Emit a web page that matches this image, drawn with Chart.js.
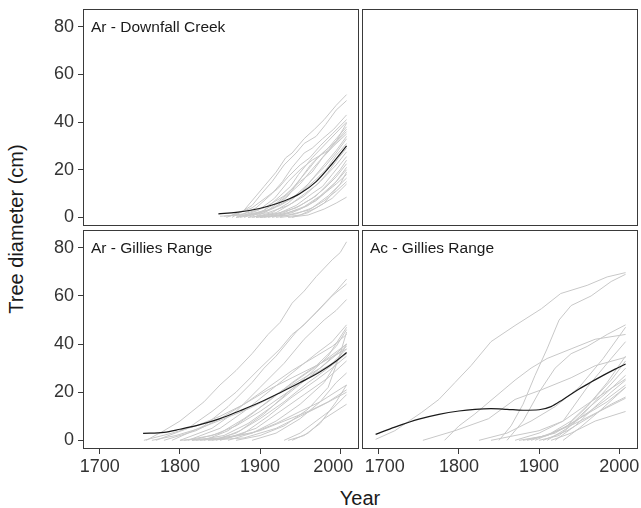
<!DOCTYPE html>
<html>
<head>
<meta charset="utf-8">
<script src="https://cdn.jsdelivr.net/npm/chart.js@4"></script>
<style>
  body { margin: 0; background: #fff; width: 641px; height: 508px; position: relative; overflow: hidden;
         font-family: 'Liberation Sans', Arial, Helvetica, sans-serif; color: #1a1a1a; }
  .panel { position: absolute; }
  .ytitle { position: absolute; left: 15.5px; top: 229px; transform: translate(-50%, -50%) rotate(-90deg);
            font-size: 20px; line-height: 1; white-space: nowrap; }
  .xtitle { position: absolute; left: 360px; top: 498px; transform: translate(-50%, -50%);
            font-size: 20px; line-height: 1; white-space: nowrap; }
</style>
</head>
<body>
<div class="panel" style="left:40px;top:0px;width:322px;height:230px"><canvas id="tl"></canvas></div>
<div class="panel" style="left:358px;top:0px;width:283px;height:230px"><canvas id="tr"></canvas></div>
<div class="panel" style="left:40px;top:228px;width:322px;height:251px"><canvas id="bl"></canvas></div>
<div class="panel" style="left:358px;top:228px;width:283px;height:251px"><canvas id="br"></canvas></div>
<div class="ytitle">Tree diameter (cm)</div>
<div class="xtitle">Year</div>

<script>
const yearTicks = [1700, 1800, 1900, 2000];
const cmTicks = [0, 20, 40, 60, 80];
const panelNames = ['Ar - Downfall Creek', 'Ar - Gillies Range', 'Ac - Gillies Range'];

// [year, diameter cm]
const downfallTrend = [[1848,1.5],[1870,2.1],[1890,3.1],[1910,4.7],[1930,6.9],[1950,10],[1970,15],[1990,22.5],[2008,30]];
const gilliesArTrend = [[1754,2.9],[1780,3.3],[1800,4.6],[1825,6.5],[1850,9],[1875,12.3],[1900,15.8],[1925,19.8],[1950,24],[1975,28.5],[1995,33],[2008,36.5]];
const gilliesAcTrend = [[1696,2.5],[1720,5.5],[1750,8.8],[1775,10.8],[1800,12.2],[1820,12.9],[1840,13.2],[1860,12.9],[1880,12.5],[1900,12.7],[1915,14],[1930,17],[1950,21.3],[1965,24.2],[1980,27],[1995,29.6],[2008,31.7]];

const downfallLines = [
  [[1858,0],[1880,3],[1895,9],[1905,13],[1920,19],[1932,25],[1940,27],[1955,33],[1968,37],[1980,41],[1995,47],[2008,51.5]],
  [[1865,0],[1890,5],[1902,10],[1915,15],[1930,22],[1945,27],[1955,31],[1970,34],[1982,39],[1995,45],[2008,49]],
  [[1870,0],[1895,4],[1915,10],[1928,15],[1940,21],[1955,27],[1965,29],[1978,33],[1992,37],[2008,43]],
  [[1862,0.5],[1890,4],[1910,9],[1922,12],[1935,17],[1950,22],[1962,25],[1975,30],[1990,35],[2008,41]],
  [[1880,0],[1905,3],[1925,9],[1938,13],[1948,18],[1965,25],[1985,32],[2008,40]],
  [[1875,0],[1900,2],[1920,6],[1935,10],[1945,14],[1960,20],[1972,25],[1985,29],[1995,33],[2008,38]],
  [[1885,0],[1910,3],[1930,8],[1950,14],[1962,19],[1975,24],[1990,30],[2008,37]],
  [[1855,0.5],[1880,1.5],[1905,4],[1930,9],[1950,15],[1965,19],[1978,25],[1992,30],[2008,35]],
  [[1890,0],[1915,2],[1935,6],[1955,12],[1968,17],[1980,21],[1995,27],[2008,33]],
  [[1870,0],[1900,2],[1925,5],[1950,10],[1970,16],[1982,20],[1995,26],[2008,31]],
  [[1895,0],[1920,2],[1940,6],[1960,11],[1972,14],[1985,19],[1998,25],[2008,29]],
  [[1880,0.5],[1910,2],[1935,5],[1955,9],[1975,15],[1995,22],[2008,27.5]],
  [[1900,0],[1925,2],[1945,5],[1965,10],[1978,13],[1990,18],[2008,25.5]],
  [[1905,0],[1930,2],[1950,5],[1970,9],[1990,16],[2000,20],[2008,24]],
  [[1885,0],[1920,1.5],[1945,4],[1965,8],[1980,12],[1995,17],[2008,22.5]],
  [[1910,0],[1935,2],[1955,4.5],[1975,9],[1995,15],[2008,21]],
  [[1895,0],[1925,1],[1950,3.5],[1970,7],[1990,13],[2008,20]],
  [[1915,0],[1940,2],[1960,5],[1980,10],[1995,14],[2008,18]],
  [[1920,0],[1945,1.5],[1965,4],[1985,9],[2008,16.5]],
  [[1900,0],[1935,1],[1960,3],[1980,7],[1995,11],[2008,15]],
  [[1925,0],[1950,1],[1970,4],[1990,8],[2008,14]],
  [[1935,0],[1960,1],[1980,3.5],[1995,6],[2008,8.5]],
  [[1940,0],[1960,2],[1980,6],[2000,14],[2008,19]],
  [[1850,0.5],[1880,1],[1910,3],[1940,8],[1960,14],[1980,22],[1995,28],[2008,34]],
  [[1872,0],[1898,3],[1918,8],[1935,15],[1950,20],[1965,24],[1985,28],[2008,36]],
  [[1892,0],[1918,4],[1935,9],[1950,16],[1963,22],[1978,27],[1995,32],[2008,39.5]]
];

const gilliesArLines = [
  [[1758,0],[1780,4],[1800,8],[1815,12],[1830,16],[1850,23],[1870,29],[1890,36],[1910,44],[1925,49],[1940,57],[1955,62],[1970,68],[1990,75],[2000,78],[2008,82.5]],
  [[1770,0],[1810,5],[1840,12],[1870,20],[1900,30],[1925,38],[1940,44],[1955,48],[1975,55],[1995,62],[2008,67]],
  [[1790,0],[1830,6],[1860,14],[1890,24],[1905,30],[1920,35],[1945,45],[1970,53],[1990,60],[2008,65]],
  [[1800,0],[1840,5],[1870,12],[1900,22],[1930,32],[1955,42],[1980,50],[1995,54],[2008,58.5]],
  [[1810,0],[1850,5],[1880,12],[1910,20],[1940,28],[1970,36],[1990,41],[2008,48]],
  [[1815,0],[1850,3],[1880,9],[1910,16],[1940,24],[1970,31],[1995,39],[2008,46]],
  [[1780,0],[1820,4],[1850,9],[1880,15],[1910,22],[1940,29],[1970,35],[1990,39],[2008,44]],
  [[1830,0],[1860,4],[1890,11],[1920,19],[1950,26],[1980,33],[2008,40]],
  [[1820,0],[1855,2],[1885,7],[1915,14],[1945,22],[1975,30],[2008,39]],
  [[1805,0],[1840,2],[1870,6],[1900,12],[1930,19],[1960,26],[1990,32],[2008,38]],
  [[1840,0],[1870,3],[1900,9],[1930,16],[1960,24],[1985,30],[2008,36]],
  [[1850,0],[1880,3],[1910,10],[1940,18],[1970,25],[1990,30],[2008,35]],
  [[1825,0],[1860,1],[1895,5],[1925,12],[1955,19],[1985,26],[2008,33]],
  [[1860,0],[1890,3],[1920,8],[1950,15],[1980,24],[1995,32],[2008,40]],
  [[1870,0],[1900,2],[1930,6],[1960,13],[1985,22],[2000,36],[2008,45]],
  [[1890,0],[1920,3],[1950,9],[1975,16],[1995,24],[2008,28]],
  [[1800,0],[1850,1],[1890,3],[1920,7],[1950,12],[1975,16],[2008,23]],
  [[1815,0],[1860,1],[1900,4],[1930,8],[1960,12],[1985,16],[2008,21]],
  [[1835,0],[1880,1],[1920,5],[1950,10],[1980,15],[2008,20]],
  [[1930,0],[1950,3],[1970,8],[1990,13],[2008,19]],
  [[1940,0],[1960,3],[1980,9],[2008,15]],
  [[1935,0],[1955,2],[1975,7],[1995,16],[2008,23]],
  [[1755,0],[1790,3],[1820,6],[1850,10],[1880,15],[1910,21],[1940,26],[1970,31],[2008,38]],
  [[1765,0],[1795,2],[1825,5],[1855,9],[1885,13],[1915,18],[1945,24],[1975,30],[2008,40]],
  [[1845,0],[1875,4],[1905,11],[1935,20],[1960,27],[1985,35],[2008,47]]
];

const gilliesAcLines = [
  [[1696,0.4],[1720,4],[1753,11.5],[1775,17],[1795,24],[1815,31],[1840,41],[1870,47.7],[1903,54.7],[1927,61],[1960,64.4],[1985,67.9],[2008,69.7]],
  [[1850,0],[1865,6],[1880,15],[1895,27],[1910,38],[1925,50],[1940,56],[1965,60],[1990,66],[2008,69]],
  [[1782,0],[1800,6],[1820,11],[1845,18],[1870,25],[1890,30],[1910,34],[1940,38],[1970,42],[2008,44]],
  [[1755,0],[1795,4],[1837,9],[1870,17],[1903,21],[1940,26],[1970,31],[2008,34.5]],
  [[1860,0],[1880,8],[1900,20],[1920,30],[1940,36],[1960,39],[1985,44],[2008,48]],
  [[1825,0],[1860,3],[1890,8],[1920,14],[1950,22],[1980,34],[2008,47]],
  [[1870,0],[1900,3],[1930,8],[1960,22],[1990,34],[2008,41]],
  [[1880,0],[1910,2],[1935,6],[1960,14],[1985,24],[2008,35]],
  [[1890,0],[1915,3],[1940,8],[1965,16],[1990,25],[2008,33]],
  [[1900,0],[1925,2],[1950,9],[1975,18],[2008,30]],
  [[1910,0],[1935,5],[1960,13],[1985,20],[2008,27]],
  [[1920,0],[1945,6],[1970,14],[1990,20],[2008,25]],
  [[1885,0],[1920,3],[1950,9],[1980,16],[2008,23]],
  [[1895,0],[1930,5],[1960,11],[1985,16],[2008,22]],
  [[1905,0],[1935,4],[1965,10],[1990,15],[2008,18]],
  [[1875,0],[1910,2],[1945,7],[1975,12],[2008,17.5]],
  [[1915,0],[1940,3],[1970,8],[2008,12]],
  [[1930,0],[1950,5],[1975,12],[2008,22]],
  [[1840,0],[1870,2],[1900,4],[1930,8],[1960,15],[2008,25.5]]
];

const fontFamily = "'Liberation Sans', Arial, Helvetica, sans-serif";

// draws the box around the panel and the label in its top-left corner
const panelDecor = {
  id: 'panelDecor',
  afterDraw(chart, args, opts) {
    const a = chart.chartArea;
    const ctx = chart.ctx;
    ctx.save();
    ctx.strokeStyle = '#3a3a3a';
    ctx.lineWidth = 1;
    ctx.strokeRect(a.left + 0.5, a.top + 0.5, a.right - a.left - 1, a.bottom - a.top - 1);
    if (opts.text) {
      ctx.fillStyle = '#1a1a1a';
      ctx.font = '15.5px ' + fontFamily;
      ctx.textBaseline = 'alphabetic';
      ctx.fillText(opts.text, a.left + 8, a.top + 22.5);
    }
    ctx.restore();
  }
};

// the year labels next to the gap between the two bottom panels are pushed apart a bit
const labelNudge = {
  id: 'labelNudge',
  afterUpdate(chart, args, opts) {
    const shifts = opts.shifts || {};
    const x = chart.scales.x;
    if (!x || !x.options.display) return;
    const items = x.getLabelItems();
    Object.keys(shifts).forEach(i => {
      const it = items[i];
      if (it && it.options && Array.isArray(it.options.translation)) it.options.translation[0] += shifts[i];
    });
  }
};

function toPoints(line) {
  return line.map(([x, y]) => ({ x, y }));
}

// fixed axis sizes, and no extra room for half tick labels
function fixSize(s, size) {
  if (s.options.display) {
    if (s.isHorizontal()) s.height = size; else s.width = size;
  }
  s.paddingTop = 0; s.paddingBottom = 0; s.paddingLeft = 0; s.paddingRight = 0;
}

function makePanel(id, lines, trend, label, showX, showY, padding, shifts) {
  const datasets = [];
  if (trend) {
    datasets.push({
      data: toPoints(trend), borderColor: '#1a1a1a', borderWidth: 1.2,
      pointRadius: 0, cubicInterpolationMode: 'monotone', order: 0
    });
  }
  lines.forEach(l => datasets.push({
    data: toPoints(l), borderColor: '#c8c8c8', borderWidth: 1,
    pointRadius: 0, tension: 0, order: 1
  }));

  new Chart(document.getElementById(id), {
    type: 'line',
    data: { datasets },
    plugins: [panelDecor, labelNudge],
    options: {
      responsive: true,
      maintainAspectRatio: false,
      devicePixelRatio: 1,
      animation: false,
      events: [],
      layout: { padding },
      plugins: {
        legend: { display: false }, tooltip: { enabled: false },
        panelDecor: { text: label }, labelNudge: { shifts: shifts || {} }
      },
      scales: {
        x: {
          type: 'linear', min: 1679, max: 2023.5, display: showX,
          afterBuildTicks: s => { s.ticks = yearTicks.map(v => ({ value: v })); },
          afterFit: s => fixSize(s, 30),
          grid: { drawOnChartArea: false, drawTicks: true, tickLength: 5, tickColor: '#3a3a3a' },
          border: { display: false },
          ticks: { font: { size: 18, family: fontFamily }, color: '#333', padding: 2, maxRotation: 0, callback: v => String(v) }
        },
        y: {
          type: 'linear', min: -3.6, max: 87.4, display: showY,
          afterBuildTicks: s => { s.ticks = cmTicks.map(v => ({ value: v })); },
          afterFit: s => fixSize(s, 43),
          grid: { drawOnChartArea: false, drawTicks: true, tickLength: 5, tickColor: '#3a3a3a' },
          border: { display: false },
          ticks: { font: { size: 18, family: fontFamily }, color: '#333', padding: 4, callback: v => String(v) }
        }
      }
    }
  });
}

makePanel('tl', downfallLines, downfallTrend, panelNames[0], false, true, { top: 9, right: 3, bottom: 4, left: 0 });
makePanel('tr', [], null, '', false, false, { top: 9, right: 3, bottom: 4, left: 4 });
makePanel('bl', gilliesArLines, gilliesArTrend, panelNames[1], true, true, { top: 2, right: 3, bottom: 0, left: 0 }, { 3: -7 });
makePanel('br', gilliesAcLines, gilliesAcTrend, panelNames[2], true, false, { top: 2, right: 3, bottom: 0, left: 4 }, { 0: 6 });
</script>
</body>
</html>
